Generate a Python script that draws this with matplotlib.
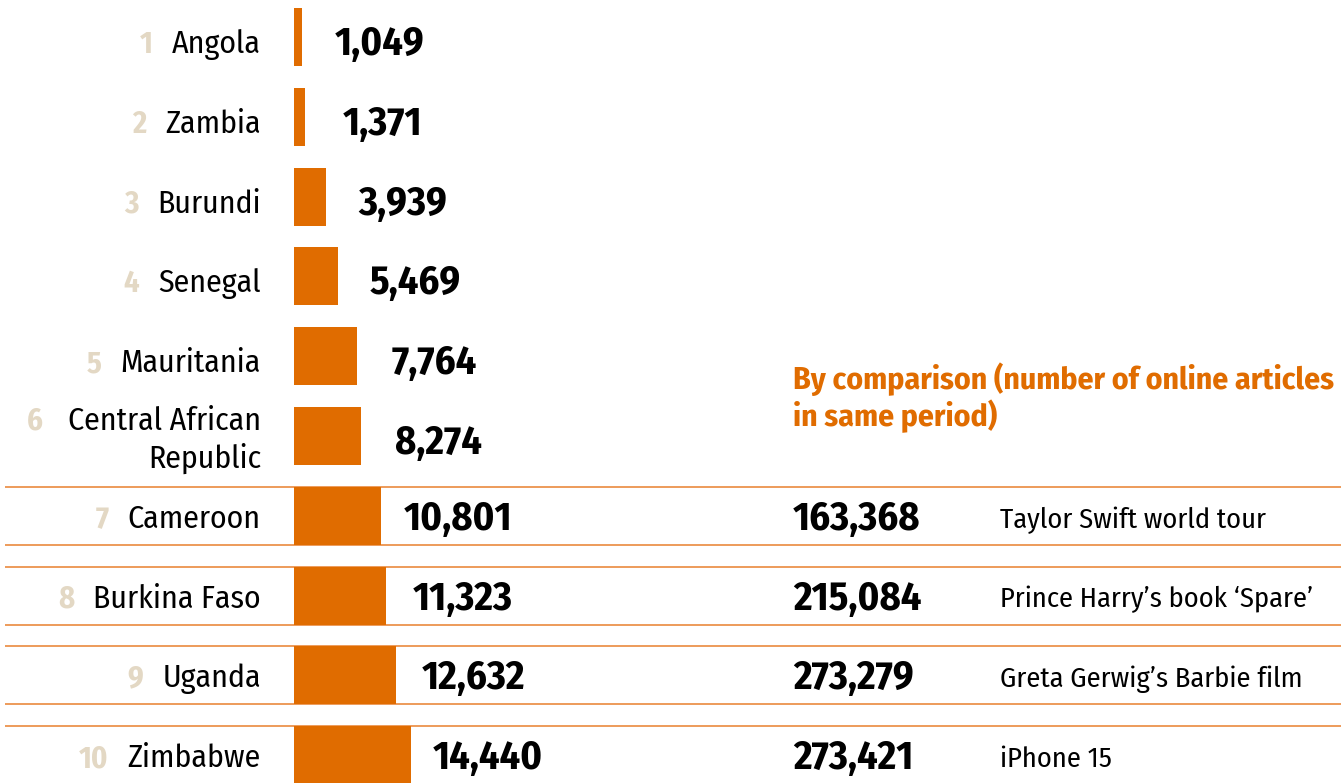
import matplotlib
matplotlib.use('Agg')
import matplotlib.pyplot as plt

# ---------------- data ----------------
ranks = ['1', '2', '3', '4', '5', '6', '7', '8', '9', '10']
countries = ['Angola', 'Zambia', 'Burundi', 'Senegal', 'Mauritania',
             'Central African\nRepublic', 'Cameroon', 'Burkina Faso',
             'Uganda', 'Zimbabwe']
articles = [1049, 1371, 3939, 5469, 7764, 8274, 10801, 11323, 12632, 14440]

comparison_values = [163368, 215084, 273279, 273421]
comparison_labels = ['Taylor Swift world tour', 'Prince Harry\u2019s book \u2018Spare\u2019',
                     'Greta Gerwig\u2019s Barbie film', 'iPhone 15']
comparison_rows = [6, 7, 8, 9]
header_lines = ['By comparison (number of online articles', 'in same period)']

# ---------------- style ----------------
ORANGE = '#e06c00'
LINE = '#ea8a3e'
RANK = '#e3d8c4'
NARROW = ['Fira Sans Condensed', 'Roboto Condensed', 'Liberation Sans Narrow',
          'Roboto', 'DejaVu Sans']

W, H, DPI = 1341, 783, 100
ROW, TOP = 79.8, 37.0
BAR_X0, PX_PER = 294, 0.0081
BAR_H = 58 / ROW
VAL_SIZE = 29


def px(p):
    return p / ROW


fig = plt.figure(figsize=(W / DPI, H / DPI), dpi=DPI)
fig.patch.set_facecolor('white')
ylim = ((H - TOP) / ROW, -TOP / ROW)

ax = fig.add_axes([0, 0, 1, 1])
ax.set_xlim(0, W)
ax.set_ylim(*ylim)
ax.axis('off')

axb = fig.add_axes([BAR_X0 / W, 0, (W - BAR_X0) / W, 1])
axb.set_xlim(0, (W - BAR_X0) / PX_PER)
axb.set_ylim(*ylim)
axb.axis('off')
axb.patch.set_alpha(0)

ypos = list(range(len(countries)))
axb.barh(ypos, articles, height=BAR_H, color=ORANGE, zorder=3)

# separator lines for compared rows
for r in comparison_rows:
    ax.hlines([r - BAR_H / 2, r + BAR_H / 2], 5, W, color=LINE, lw=1.2, zorder=1)


def base_off(i):
    return 12 if i in comparison_rows else 16


# value labels
for i, v in enumerate(articles):
    axb.annotate(f'{v:,}', xy=(v, i), xytext=(77, -(base_off(i) + 2)),
                 textcoords='offset pixels', ha='center', va='baseline',
                 fontsize=VAL_SIZE, fontweight='bold', family=NARROW, color='black')

# country names and ranks
renderer = fig.canvas.get_renderer()
NAME_X = 261
for i, (rk, name) in enumerate(zip(ranks, countries)):
    lines = name.split('\n')
    n = len(lines)
    texts = []
    for k, ln in enumerate(lines):
        if n == 1:
            off = base_off(i)
        else:
            off = 13 + (k - (n - 1) / 2) * 38
        t = ax.text(NAME_X, i + px(off), ln, ha='right', va='baseline',
                    fontsize=22.8, family=NARROW, color='black')
        texts.append((t, off))
    t0, off0 = texts[0]
    left = min(t.get_window_extent(renderer).x0 for t, _ in texts)
    gap = 19 if n == 1 else 25
    ax.text(left - gap, i + px(off0), rk, ha='right', va='baseline',
            fontsize=22, fontweight='bold', family=NARROW, color=RANK)

# comparison header
for k, ln in enumerate(header_lines):
    ax.text(793, px(389 - TOP + k * 37), ln, ha='left', va='baseline',
            fontsize=22.8, fontweight='bold', family=NARROW, color=ORANGE)

# comparison values and labels
for r, v, lab in zip(comparison_rows, comparison_values, comparison_labels):
    ax.text(793, r + px(base_off(r) + 2), f'{v:,}', ha='left', va='baseline',
            fontsize=VAL_SIZE, fontweight='bold', family=NARROW, color='black')
    ax.text(1000, r + px(base_off(r)), lab, ha='left', va='baseline', fontsize=20.5,
            family=NARROW, color='black')

fig.savefig('out.png', dpi=DPI, facecolor='white')
